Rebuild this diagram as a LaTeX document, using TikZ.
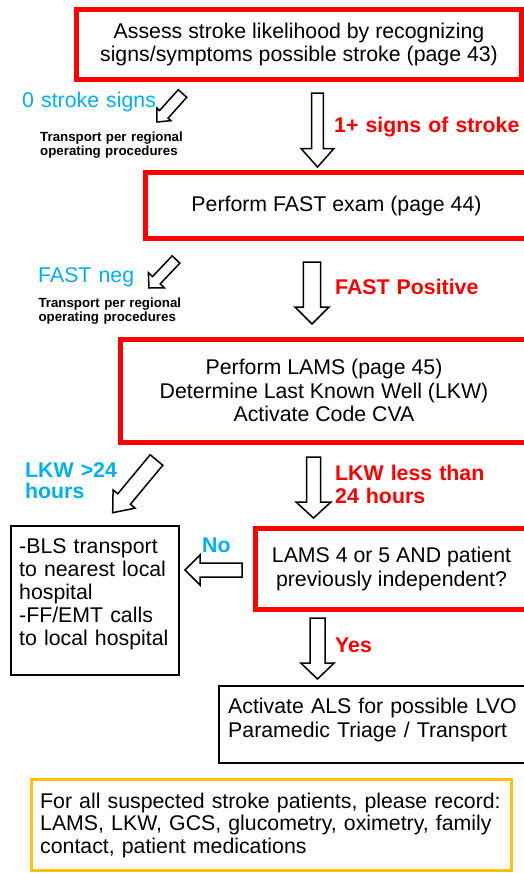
\documentclass[tikz,border=0pt]{standalone}
\usepackage{fontspec}
\setmainfont{Liberation Sans}
\usetikzlibrary{calc}
\definecolor{rd}{HTML}{FF0000}
\definecolor{cy}{HTML}{00B0F0}
\definecolor{og}{HTML}{FFC000}
\newcommand\mainsize{\fontsize{21.3}{23.5}\selectfont}
\newcommand\smallbold{\fontsize{13.3}{14}\selectfont\bfseries}
% block arrow: tail, tip, shaft half width, head half width, head length
\newcommand\blockarrow[5]{%
  \coordinate (ba-h) at ($(#2)!#5pt!(#1)$);
  \draw[barrow] ($(#1)!#3pt!90:(#2)$) -- ($(ba-h)!#3pt!-90:(#1)$) -- ($(ba-h)!#4pt!-90:(#1)$) -- (#2) -- ($(ba-h)!#4pt!90:(#1)$) -- ($(ba-h)!#3pt!90:(#1)$) -- ($(#1)!#3pt!-90:(#2)$) -- cycle;}
\begin{document}
\begin{tikzpicture}[x=1pt,y=1pt,
  redbox/.style={draw=rd, line width=5pt, inner sep=0pt, align=center, font=\mainsize},
  blackbox/.style={draw=black, line width=1.8pt, inner sep=0pt},
  orangebox/.style={draw=og, line width=3.5pt, inner sep=0pt},
  txt/.style={inner sep=0pt, anchor=base west, align=left, text width=#1},
  txt/.default=300pt,
  barrow/.style={draw=black, fill=white, line width=1.5pt, line join=miter}]
\clip (0,0) rectangle (524,-873);
\fill[white] (0,0) rectangle (524,-873);

% boxes
\node[redbox, minimum width=445pt, minimum height=70pt] (assess) at (299,-44.5)
  {Assess stroke likelihood by recognizing\\signs/symptoms possible stroke (page 43)};
\node[redbox, minimum width=382pt, minimum height=66pt] (fast) at (336.5,-205.5)
  {Perform FAST exam (page 44)};
\node[redbox, minimum width=407pt, minimum height=103pt] (lams) at (324,-390.5)
  {Perform LAMS (page 45)\\Determine Last Known Well (LKW)\\Activate Code CVA};
\node[redbox, minimum width=272pt, minimum height=81.5pt] (decide) at (391.5,-568.75)
  {LAMS 4 or 5 AND patient\\previously independent?};
\node[blackbox, minimum width=167.9pt, minimum height=148.8pt] (bls) at (95.25,-600.6) {};
\node[blackbox, minimum width=311.3pt, minimum height=77.1pt] (als) at (374.35,-724.75) {};
\node[orangebox, minimum width=480.2pt, minimum height=91pt] (record) at (271.4,-825) {};

% box texts (left aligned)
\node[txt=160pt, font={\fontsize{21.3}{23}\selectfont}] (blstext) at (19,-553)
  {-BLS transport\\to nearest local\\hospital\\-FF/EMT calls\\to local hospital};
\node[txt=300pt, font={\fontsize{21.3}{24}\selectfont}] (alstext) at (228,-713)
  {Activate ALS for possible LVO\\Paramedic Triage / Transport};
\node[txt=470pt, font={\fontsize{21.3}{22.7}\selectfont}] (recordtext) at (40,-808)
  {For all suspected stroke patients, please record:\\LAMS, LKW, GCS, glucometry, oximetry, family\\contact, patient medications};

% labels
\node[txt=200pt, font=\mainsize, text=cy] (zero) at (22,-107) {0 stroke signs};
\node[txt=200pt, font=\smallbold] (tr1) at (40,-141.5) {Transport per regional\\operating procedures};
\node[txt=200pt, font=\mainsize\bfseries, text=rd] (oneplus) at (334,-132) {1+ signs of stroke};
\node[txt=200pt, font=\mainsize, text=cy] (fneg) at (38,-282) {FAST neg};
\node[txt=200pt, font=\smallbold] (tr2) at (38.3,-307.2) {Transport per regional\\operating procedures};
\node[txt=200pt, font=\mainsize\bfseries, text=rd] (fpos) at (335,-294) {FAST Positive};
\node[txt=200pt, font={\fontsize{21.3}{21.3}\selectfont\bfseries}, text=cy] (lkwgt) at (25,-477) {LKW >24\\hours};
\node[txt=200pt, font={\fontsize{21.3}{23}\selectfont\bfseries}, text=rd] (lkwlt) at (335,-480) {LKW less than\\24 hours};
\node[txt=60pt, font=\mainsize\bfseries, text=cy] (no) at (202,-552) {No};
\node[txt=60pt, font=\mainsize\bfseries, text=rd] (yes) at (335,-652) {Yes};

% arrow end points
\coordinate (a1t) at (317.5,-93);   \coordinate (a1h) at (317.5,-167);
\coordinate (a2t) at (312,-262);    \coordinate (a2h) at (312,-324);
\coordinate (a3t) at (313.5,-457);  \coordinate (a3h) at (313.5,-518);
\coordinate (a4t) at (317.5,-618);  \coordinate (a4h) at (317.5,-679);
\coordinate (ant) at (242,-570);    \coordinate (anh) at (185,-570);
\coordinate (d1t) at (182.5,-93.5); \coordinate (d1h) at (157,-122);
\coordinate (d2t) at (176,-259.5);  \coordinate (d2h) at (149,-288);
\coordinate (d3t) at (156.5,-460);  \coordinate (d3h) at (112.7,-512.7);

\blockarrow{a1t}{a1h}{5.8}{16.5}{18.5}
\blockarrow{a2t}{a2h}{8.7}{17}{17}
\blockarrow{a3t}{a3h}{7}{17.5}{16}
\blockarrow{a4t}{a4h}{7.5}{16.7}{16}
\blockarrow{ant}{anh}{7}{15}{15}
\blockarrow{d1t}{d1h}{5.7}{9.5}{10.3}
\blockarrow{d2t}{d2h}{5.3}{11}{10.7}
\blockarrow{d3t}{d3h}{8.2}{14.3}{17.8}
\end{tikzpicture}
\end{document}
